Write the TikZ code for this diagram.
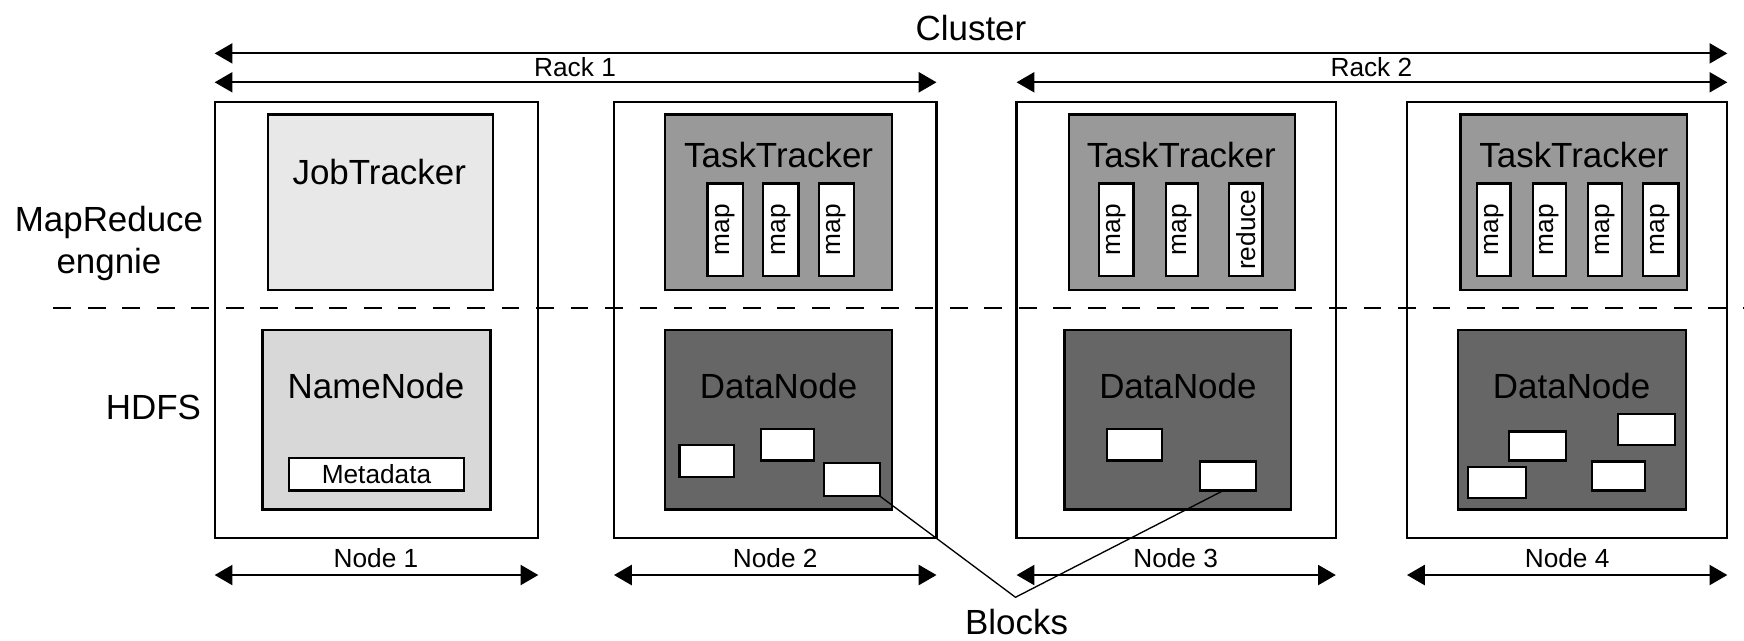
\documentclass[tikz,border=0pt]{standalone}
\usepackage{fontspec}
\setmainfont{Liberation Sans}
\usetikzlibrary{arrows.meta,fit}
\definecolor{jtgray}{HTML}{E8E8E8}
\definecolor{nngray}{HTML}{D8D8D8}
\definecolor{ttgray}{HTML}{999999}
\definecolor{dngray}{HTML}{666666}
\begin{document}
\begin{tikzpicture}[x=0.5pt,y=-0.5pt,
  box/.style={draw, line width=1pt, inner sep=0pt, outer sep=0pt},
  nodebox/.style={box},
  jtbox/.style={box, fill=jtgray},
  nnbox/.style={box, fill=nngray},
  ttbox/.style={box, fill=ttgray},
  dnbox/.style={box, fill=dngray},
  slot/.style={box, fill=white},
  blk/.style={box, fill=white},
  dim/.style={line width=1pt, {Triangle[length=8pt,width=9pt]}-{Triangle[length=8pt,width=9pt]}},
  big/.style={font=\fontsize{15.7pt}{19pt}\selectfont, inner sep=0pt, align=center},
  small/.style={font=\fontsize{11.8pt}{14pt}\selectfont, inner sep=0pt},
  sep/.style={line width=1pt, dash pattern=on 8pt off 7.5pt},
  leader/.style={line width=0.6pt}
]
\useasboundingbox (0,0) rectangle (1568,576);

% separator
\coordinate (sepL) at (48,277);
\coordinate (sepR) at (1568,277);
\draw[sep] (sepL) -- (sepR);

% node frames
\node[nodebox, fit={(193,92)(484,484)}] (n1) {};
\node[nodebox, fit={(552,92)(842,484)}] (n2) {};
\node[nodebox, fit={(914,92)(1201,484)}] (n3) {};
\node[nodebox, fit={(1265,92)(1553,484)}] (n4) {};

% cluster / rack dimension arrows
\node[big] (cl) at (873,25) {Cluster};
\coordinate (clL) at (193,48);
\coordinate (clR) at (1553,48);
\draw[dim] (clL) -- (clR);
\coordinate (r1L) at (193,74);
\coordinate (r1R) at (842,74);
\draw[dim] (r1L) -- (r1R);
\node[small] (r1) at (517,60) {Rack 1};
\coordinate (r2L) at (914,74);
\coordinate (r2R) at (1553,74);
\draw[dim] (r2L) -- (r2R);
\node[small] (r2) at (1233,60) {Rack 2};

% left labels
\node[big] (mr) at (98,219) {MapReduce\\engnie};
\node[big] (hdfs) at (138,366) {HDFS};

% Node 1
\node[jtbox, fit={(241,103)(443,261)}] (jt) {};
\node[big] (jtt) at (341,155) {JobTracker};
\node[nnbox, fit={(236,297)(441,458)}] (nn) {};
\node[big] (nnt) at (338,347) {NameNode};
\node[slot, fit={(260,412)(417,441)}] (md) {};
\node[small] (mdt) at (md.center) {Metadata};

% Node 2
\node[ttbox, fit={(598,103)(802,261)}] (tt2) {};
\node[big] (tt2t) at (700,139) {TaskTracker};
\node[slot, fit={(636,165)(668,248)}] (s21) {};
\node[slot, fit={(686,165)(718,248)}] (s22) {};
\node[slot, fit={(736,165)(768,248)}] (s23) {};
\node[small, rotate=90] (s21t) at (s21.center) {map};
\node[small, rotate=90] (s22t) at (s22.center) {map};
\node[small, rotate=90] (s23t) at (s23.center) {map};
\node[dnbox, fit={(598,297)(802,458)}] (dn2) {};
\node[big] (dn2t) at (700,347) {DataNode};
\node[blk, fit={(611,400)(660,429)}] (b21) {};
\node[blk, fit={(684,386)(732,414)}] (b22) {};
\node[blk, fit={(741,416)(791,446)}] (b23) {};

% Node 3
\node[ttbox, fit={(961,103)(1164,261)}] (tt3) {};
\node[big] (tt3t) at (1062,139) {TaskTracker};
\node[slot, fit={(988,165)(1019,248)}] (s31) {};
\node[slot, fit={(1048,165)(1077,248)}] (s32) {};
\node[slot, fit={(1105,165)(1135,248)}] (s33) {};
\node[small, rotate=90] (s31t) at (s31.center) {map};
\node[small, rotate=90] (s32t) at (s32.center) {map};
\node[small, rotate=90] (s33t) at (s33.center) {reduce};
\node[dnbox, fit={(957,297)(1161,458)}] (dn3) {};
\node[big] (dn3t) at (1059,347) {DataNode};
\node[blk, fit={(995,386)(1045,414)}] (b31) {};
\node[blk, fit={(1079,415)(1129,441)}] (b32) {};

% Node 4
\node[ttbox, fit={(1313,103)(1517,261)}] (tt4) {};
\node[big] (tt4t) at (1415,139) {TaskTracker};
\node[slot, fit={(1328,165)(1358,248)}] (s41) {};
\node[slot, fit={(1378,165)(1408,248)}] (s42) {};
\node[slot, fit={(1428,165)(1458,248)}] (s43) {};
\node[slot, fit={(1477,165)(1509,248)}] (s44) {};
\node[small, rotate=90] (s41t) at (s41.center) {map};
\node[small, rotate=90] (s42t) at (s42.center) {map};
\node[small, rotate=90] (s43t) at (s43.center) {map};
\node[small, rotate=90] (s44t) at (s44.center) {map};
\node[dnbox, fit={(1311,297)(1516,458)}] (dn4) {};
\node[big] (dn4t) at (1413,347) {DataNode};
\node[blk, fit={(1357,388)(1408,414)}] (b41) {};
\node[blk, fit={(1455,372)(1506,400)}] (b42) {};
\node[blk, fit={(1320,420)(1372,448)}] (b43) {};
\node[blk, fit={(1431,415)(1479,441)}] (b44) {};

% node dimension arrows
\coordinate (d1L) at (193,517); \coordinate (d1R) at (484,517);
\coordinate (d2L) at (552,517); \coordinate (d2R) at (842,517);
\coordinate (d3L) at (914,517); \coordinate (d3R) at (1201,517);
\coordinate (d4L) at (1265,517); \coordinate (d4R) at (1553,517);
\draw[dim] (d1L) -- (d1R);
\draw[dim] (d2L) -- (d2R);
\draw[dim] (d3L) -- (d3R);
\draw[dim] (d4L) -- (d4R);
\node[small] (l1) at (338,502) {Node 1};
\node[small] (l2) at (697,502) {Node 2};
\node[small] (l3) at (1057,502) {Node 3};
\node[small] (l4) at (1409,502) {Node 4};

% Blocks leader
\node[big] (blocks) at (914,559) {Blocks};
\coordinate (vtx) at (913,537);
\coordinate (b32p) at (1100,441);
\draw[leader] (b23.south east) -- (vtx) -- (b32p);
\end{tikzpicture}
\end{document}
